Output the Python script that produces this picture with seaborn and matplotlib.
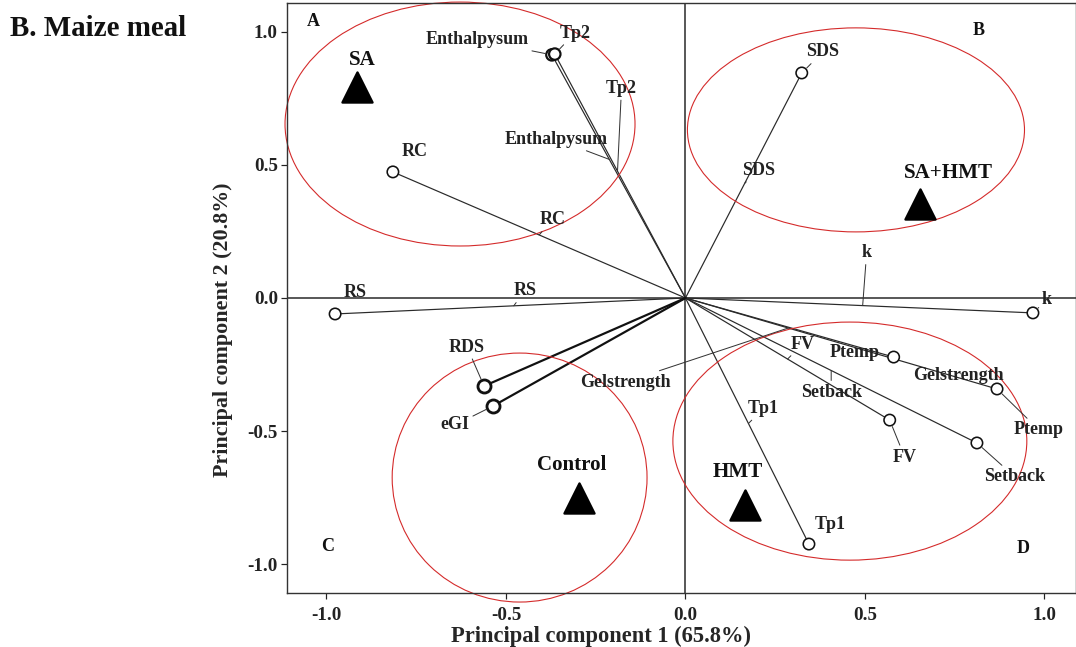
import numpy as np
import pandas as pd
import matplotlib
matplotlib.use('Agg')
import matplotlib.pyplot as plt
from matplotlib.patches import Ellipse
import seaborn as sns

# loadings of the variables on PC1 / PC2
variables = ['Enthalpysum', 'Tp2', 'RC', 'RS', 'RDS', 'eGI', 'SDS', 'k',
             'Ptemp', 'Gelstrength', 'FV', 'Setback', 'Tp1']
pc1 = [-0.372, -0.364, -0.815, -0.976, -0.561, -0.536, 0.324, 0.968,
       0.580, 0.868, 0.569, 0.812, 0.344]
pc2 = [0.914, 0.917, 0.474, -0.060, -0.331, -0.406, 0.846, -0.056,
       -0.222, -0.342, -0.459, -0.545, -0.925]
bold_vars = ['RDS', 'eGI']

# treatment scores
groups = ['SA', 'SA+HMT', 'Control', 'HMT']
grp_pc1 = [-0.915, 0.653, -0.297, 0.166]
grp_pc2 = [0.793, 0.353, -0.752, -0.778]

# red grouping ellipses (centre, width, height in PC units)
ell_cx = [-0.628, 0.475, -0.462, 0.458]
ell_cy = [0.654, 0.632, -0.675, -0.538]
ell_w = [0.975, 0.939, 0.710, 0.986]
ell_h = [0.917, 0.767, 0.936, 0.895]

quadrants = ['A', 'B', 'C', 'D']

# label placement (offsets in points from the circle)
end_labels = [('Enthalpysum', 'Enthalpysum', -75, 15, True),
              ('Tp2', 'Tp2', 20, 21, True),
              ('RC', 'RC', 22, 20, False),
              ('RS', 'RS', 20, 21, False),
              ('RDS', 'RDS', -17, 39, True),
              ('eGI', 'eGI', -38, -19, True),
              ('SDS', 'SDS', 21, 21, True),
              ('k', 'k', 14, 13, True),
              ('Ptemp', 'Ptemp', -39, 5, False),
              ('Gelstrength', 'Gelstrength', -39, 13, False),
              ('Ptemp', 'Gelstrength', 42, -41, True),
              ('FV', 'FV', 15, -37, True),
              ('Setback', 'Setback', 38, -34, True),
              ('Tp1', 'Tp1', 21, 20, False)]
# labels along the vectors (fraction of the vector, offset in points)
mid_labels = [('Tp2', 'Tp2', 0.52, 4, 83),
              ('Enthalpysum', 'Enthalpysum', 0.57, -53, 20),
              ('RC', 'RC', 0.50, 13, 15),
              ('RS', 'RS', 0.49, 11, 15),
              ('SDS', 'SDS', 0.51, 14, 13),
              ('k', 'k', 0.51, 4, 53),
              ('Gelstrength', 'Gelstrength', 0.33, -163, -54),
              ('FV', 'FV', 0.50, 15, 15),
              ('Setback', 'Setback', 0.50, 0, -22),
              ('Tp1', 'Tp1', 0.51, 15, 15)]
grp_offsets = [(5, 27), (29, 31), (-7, 33), (-7, 33)]

sns.set_style('ticks')
plt.rcParams['font.family'] = ['Liberation Serif', 'DejaVu Serif']
plt.rcParams['font.weight'] = 'bold'

fig = plt.figure(figsize=(1076 / 72, 647 / 72), dpi=72)
ax = fig.add_axes([287 / 1076, 54 / 647, 789 / 1076, 590 / 647])

load = pd.DataFrame({'var': variables, 'pc1': pc1, 'pc2': pc2})
seg = pd.concat([load.assign(pc1=0.0, pc2=0.0, step=0), load.assign(step=1)])
seg = seg.sort_values(['var', 'step'])

ax.axhline(0, color='#333333', lw=1.6, zorder=1)
ax.axvline(0, color='#333333', lw=1.6, zorder=1)

thin = seg[~seg['var'].isin(bold_vars)]
thick = seg[seg['var'].isin(bold_vars)]
sns.lineplot(data=thin, x='pc1', y='pc2', units='var', estimator=None, sort=False,
             color='#2a2a2a', lw=1.2, ax=ax, zorder=2)
sns.lineplot(data=thick, x='pc1', y='pc2', units='var', estimator=None, sort=False,
             color='#111111', lw=2.2, ax=ax, zorder=2)

norm = load[~load['var'].isin(bold_vars)]
bold = load[load['var'].isin(bold_vars)]
edge_w = [2.2 if v in ('Enthalpysum', 'Tp2') else 1.6 for v in norm['var']]
ax.scatter(norm['pc1'], norm['pc2'], s=130, facecolors='white', edgecolors='#111111',
           linewidths=edge_w, zorder=3)
ax.scatter(bold['pc1'], bold['pc2'], s=170, facecolors='white', edgecolors='#111111',
           linewidths=2.8, zorder=3)

grp = pd.DataFrame({'group': groups, 'pc1': grp_pc1, 'pc2': grp_pc2})
sns.scatterplot(data=grp, x='pc1', y='pc2', marker='^', s=900, color='black',
                edgecolor='black', ax=ax, zorder=4, legend=False)

for cx, cy, w, h in zip(ell_cx, ell_cy, ell_w, ell_h):
    ax.add_patch(Ellipse((cx, cy), w, h, fill=False, edgecolor='#d42a2a', lw=1.1,
                         clip_on=False, zorder=2))

pos = dict(zip(variables, zip(pc1, pc2)))
lbl_kw = dict(fontsize=18, fontweight='bold', color='#222222', ha='center', va='center',
              textcoords='offset points', zorder=5)
for text, var, dx, dy, leader in end_labels:
    ap = dict(arrowstyle='-', color='#333333', lw=1.0, shrinkA=1, shrinkB=7) if leader else None
    ax.annotate(text, xy=pos[var], xytext=(dx, dy), arrowprops=ap, **lbl_kw)
for text, var, frac, dx, dy in mid_labels:
    x, y = pos[var]
    ax.annotate(text, xy=(x * frac, y * frac), xytext=(dx, dy),
                arrowprops=dict(arrowstyle='-', color='#333333', lw=1.0, shrinkA=1, shrinkB=0),
                **lbl_kw)
for g, x, y, (dx, dy) in zip(groups, grp_pc1, grp_pc2, grp_offsets):
    ax.annotate(g, xy=(x, y), xytext=(dx, dy), textcoords='offset points', ha='center',
                va='center', fontsize=21, fontweight='bold', color='#111111', zorder=5)

for q, (fx, fy) in zip(quadrants, [(0.033, 0.968), (0.876, 0.954), (0.052, 0.078), (0.933, 0.076)]):
    ax.text(fx, fy, q, transform=ax.transAxes, fontsize=18, fontweight='bold',
            ha='center', va='center', color='#111111')

ax.set_xlim(-1.11, 1.088)
ax.set_ylim(-1.109, 1.109)
ax.set_xticks([-1.0, -0.5, 0.0, 0.5, 1.0])
ax.set_yticks([-1.0, -0.5, 0.0, 0.5, 1.0])
ax.set_xticklabels(['-1.0', '-0.5', '0.0', '0.5', '1.0'])
ax.set_yticklabels(['-1.0', '-0.5', '0.0', '0.5', '1.0'])
ax.tick_params(axis='both', labelsize=19, length=6, width=1.2, direction='out', pad=3,
               colors='#222222')
ax.tick_params(axis='x', pad=8)
for sp in ax.spines.values():
    sp.set_color('#333333')
    sp.set_linewidth(1.4)
ax.set_xlabel('Principal component 1 (65.8%)', fontsize=22.5, fontweight='bold', labelpad=0)
ax.xaxis.set_label_coords(0.398, -0.055)
ax.set_ylabel('Principal component 2 (20.8%)', fontsize=22, fontweight='bold', labelpad=12)
ax.yaxis.set_label_coords(-0.068, 0.446)

fig.text(10 / 1076, 1 - 28 / 647, 'B. Maize meal', fontsize=29, fontweight='bold',
         ha='left', va='center', color='#111111')

fig.savefig('out.png', dpi=72)
